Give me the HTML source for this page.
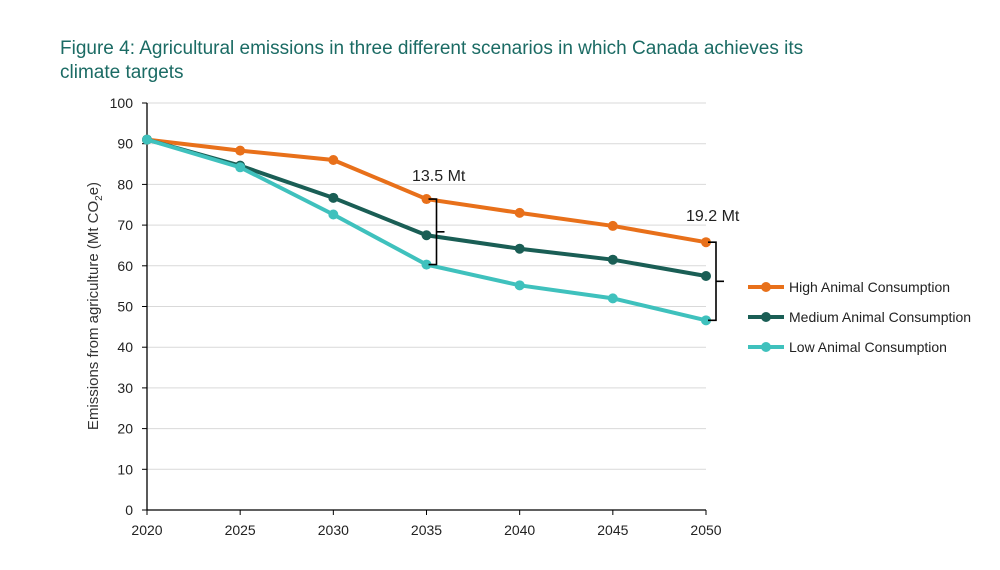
<!DOCTYPE html>
<html><head><meta charset="utf-8"><style>
body{margin:0;background:#fff;width:1000px;height:570px;overflow:hidden;font-family:"Liberation Sans",sans-serif}
#title{position:absolute;left:60px;top:37px;font-size:19px;color:#1b6b64;line-height:24px;width:780px}
svg{position:absolute;left:0;top:0}
</style></head><body>
<div id="title">Figure 4: Agricultural emissions in three different scenarios in which Canada achieves its climate targets</div>
<svg id="chart" width="1000" height="570"></svg>
<script>
const years=[2020,2025,2030,2035,2040,2045,2050];
const high=[91,88.3,86,76.4,73,69.8,65.8];
const medium=[91,84.6,76.7,67.5,64.2,61.5,57.5];
const low=[91,84.2,72.6,60.3,55.2,52,46.6];
const yTicks=[0,10,20,30,40,50,60,70,80,90,100];
const seriesNames=["High Animal Consumption","Medium Animal Consumption","Low Animal Consumption"];
const colors=["#e8701a","#1a5e55","#3fc1bd"];
const NS="http://www.w3.org/2000/svg";
const svg=document.getElementById('chart');
const x=v=>147+(v-2020)/30*559;
const y=v=>510-v*4.07;
function mk(t,a,p){const e=document.createElementNS(NS,t);for(const k in a)e.setAttribute(k,a[k]);(p||svg).appendChild(e);return e;}
yTicks.forEach(t=>{
  if(t>0){const g=mk('line',{x1:147,x2:706,y1:y(t),y2:y(t),stroke:'#d9d9d9','stroke-width':1});
  
  }
  mk('line',{x1:142,x2:147,y1:y(t),y2:y(t),stroke:'#000'});
  const l=mk('text',{x:133,y:y(t)+5,'text-anchor':'end','font-size':14,fill:'#222'});l.textContent=t;
  
  
});
years.forEach(v=>{
  mk('line',{x1:x(v),x2:x(v),y1:510,y2:515,stroke:'#000'});
  const l=mk('text',{x:x(v),y:535,'text-anchor':'middle','font-size':14,fill:'#222'});l.textContent=v;
  
  
});
const ax=mk('path',{d:'M147,103 V510 H706',stroke:'#000',fill:'none','stroke-width':1.3});


const yt=mk('text',{transform:'translate(98,306) rotate(-90)','text-anchor':'middle','font-size':15,fill:'#333'});
yt.innerHTML='Emissions from agriculture (Mt CO<tspan font-size="10" dy="4">2</tspan><tspan dy="-4">e)</tspan>';


[high,medium,low].forEach((s,i)=>{
  const g=mk('g',{});
  
  
  mk('polyline',{points:s.map((v,j)=>x(years[j])+','+y(v)).join(' '),fill:'none',stroke:colors[i],'stroke-width':4},g);
  s.forEach((v,j)=>{const c=mk('circle',{cx:x(years[j]),cy:y(v),r:5,fill:colors[i]},g);
    
    });
  const ly=287+i*30;
  const lg=mk('g',{});
  
  
  mk('line',{x1:748,x2:784,y1:ly,y2:ly,stroke:colors[i],'stroke-width':4},lg);
  mk('circle',{cx:766,cy:ly,r:5,fill:colors[i]},lg);
  const t=mk('text',{x:789,y:ly+5,'font-size':14,fill:'#222'},lg);t.textContent=seriesNames[i];
});
function bracket(yr,top,bot,label,lx,ly){
  const x0=x(yr)+2,x1=x0+8,m=(y(top)+y(bot))/2;
  const b=mk('path',{d:`M${x0},${y(top)} H${x1} V${y(bot)} H${x0} M${x1},${m} H${x1+8}`,fill:'none',stroke:'#000','stroke-width':1.6});
  
  
  const t=mk('text',{x:lx,y:ly,'font-size':16,fill:'#222'});t.textContent=label;
  
  
}
bracket(2035,high[3],low[3],'13.5 Mt',412,181);
bracket(2050,high[6],low[6],'19.2 Mt',686,221);
</script>
</body></html>
